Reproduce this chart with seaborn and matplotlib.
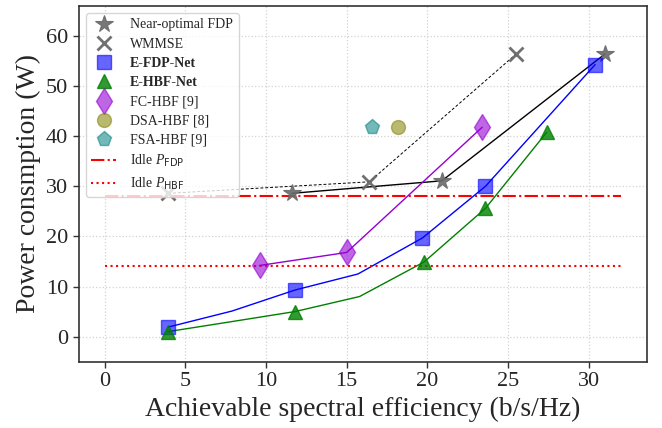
import matplotlib
matplotlib.use("Agg")
import matplotlib.pyplot as plt
import seaborn as sns
import numpy as np

# ---- data ----
opt_x = [11.6, 20.9, 31.0]
opt_y = [28.6, 31.1, 56.4]

wmmse_x = [3.94, 16.4, 25.5]
wmmse_y = [28.6, 30.9, 56.4]

efdp_x = [3.94, 7.89, 11.8, 15.7, 19.7, 23.6, 30.4]
efdp_y = [1.9, 5.1, 9.3, 12.5, 19.7, 30.0, 54.3]
efdp_mark = [0, 2, 4, 5, 6]

ehbf_x = [3.94, 7.89, 11.8, 15.8, 19.8, 23.6, 27.4]
ehbf_y = [1.0, 3.0, 5.0, 8.0, 14.9, 25.6, 40.8]
ehbf_mark = [0, 2, 4, 5, 6]

fchbf_x = [9.6, 15.0, 23.4]
fchbf_y = [14.2, 16.8, 41.8]

dsa_x = [18.2]
dsa_y = [41.8]

fsa_x = [16.6]
fsa_y = [41.8]

idle_x = [0, 32]
idle_fdp = 28
idle_hbf = 14

labels = ["Near-optimal FDP", "WMMSE", "E-FDP-Net", "E-HBF-Net", "FC-HBF [9]",
          "DSA-HBF [8]", "FSA-HBF [9]",
          r"Idle $P_{\mathrm{FDP}}$", r"Idle $P_{\mathrm{HBF}}$"]
bold_labels = ["E-FDP-Net", "E-HBF-Net"]

# ---- style ----
sns.set_style("ticks")
plt.rcParams["font.family"] = ["Liberation Serif", "DejaVu Serif"]
plt.rcParams["mathtext.fontset"] = "custom"
plt.rcParams["mathtext.rm"] = "DejaVu Sans"
plt.rcParams["mathtext.it"] = "Liberation Serif:italic"
plt.rcParams["mathtext.bf"] = "Liberation Serif:bold"
plt.rcParams["mathtext.sf"] = "DejaVu Sans"

fig, ax = plt.subplots(figsize=(6.62, 4.28), dpi=100)
fig.subplots_adjust(left=0.119, right=0.977, top=0.986, bottom=0.155)

def line(x, y, color, ls="-", lw=1.0, z=2):
    sns.lineplot(x=x, y=y, ax=ax, color=color, linestyle=ls, linewidth=lw,
                 sort=False, estimator=None, legend=False, zorder=z)

def marks(x, y, marker, color, ms, label, alpha=0.65, mew=1.0, ec=None, z=3):
    sns.lineplot(x=x, y=y, ax=ax, color=color, linestyle="", marker=marker,
                 markersize=ms, markeredgewidth=mew,
                 markeredgecolor=ec if ec else color, alpha=alpha,
                 sort=False, estimator=None, label=label, zorder=z)

# lines
line(opt_x, opt_y, "black", "-", 1.0)
line(wmmse_x, wmmse_y, "black", (0, (3, 2)), 0.7)
line(efdp_x, efdp_y, "blue", "-", 1.0)
line(ehbf_x, ehbf_y, "green", "-", 1.0)
line(fchbf_x, fchbf_y, "darkviolet", "-", 1.0)

# markers
marks(opt_x, opt_y, "*", "dimgray", 13, labels[0], alpha=0.9, mew=0.8)
marks(wmmse_x, wmmse_y, "x", "dimgray", 10, labels[1], alpha=0.95, mew=2.0)
marks([efdp_x[i] for i in efdp_mark], [efdp_y[i] for i in efdp_mark],
      "s", "blue", 9.5, labels[2], alpha=0.6)
marks([ehbf_x[i] for i in ehbf_mark], [ehbf_y[i] for i in ehbf_mark],
      "^", "green", 10, labels[3], alpha=0.8)
marks(fchbf_x, fchbf_y, "d", "darkviolet", 13, labels[4], alpha=0.6)
marks(dsa_x, dsa_y, "o", "olive", 10, labels[5], alpha=0.55)
marks(fsa_x, fsa_y, "p", "teal", 11, labels[6], alpha=0.55)

# idle lines
sns.lineplot(x=idle_x, y=[idle_fdp] * len(idle_x), ax=ax, color="red",
             linestyle="-.", linewidth=1.5, label=labels[7], estimator=None)
sns.lineplot(x=idle_x, y=[idle_hbf] * len(idle_x), ax=ax, color="red",
             linestyle=":", linewidth=1.5, label=labels[8], estimator=None)

ax.set_ylim(-5, 66)
ax.set_xticks([0, 5, 10, 15, 20, 25, 30])
ax.set_yticks([0, 10, 20, 30, 40, 50, 60])
ax.grid(True, linestyle=":", color="lightgray", linewidth=0.9)
ax.tick_params(labelsize=16, direction="out", length=4, width=1, color="#333333")
for s in ax.spines.values():
    s.set_visible(True)
    s.set_color("#333333")
    s.set_linewidth(1.2)

ax.set_xlabel("Achievable spectral efficiency (b/s/Hz)", fontsize=20)
ax.set_ylabel("Power consmption (W)", fontsize=20)

leg = ax.legend(loc="upper left", fontsize=10, handlelength=1.8,
                borderaxespad=0.5, labelspacing=0.45, handletextpad=1.0)
for t in leg.get_texts():
    if t.get_text() in bold_labels:
        t.set_fontweight("bold")

fig.savefig("out.png", dpi=100)
